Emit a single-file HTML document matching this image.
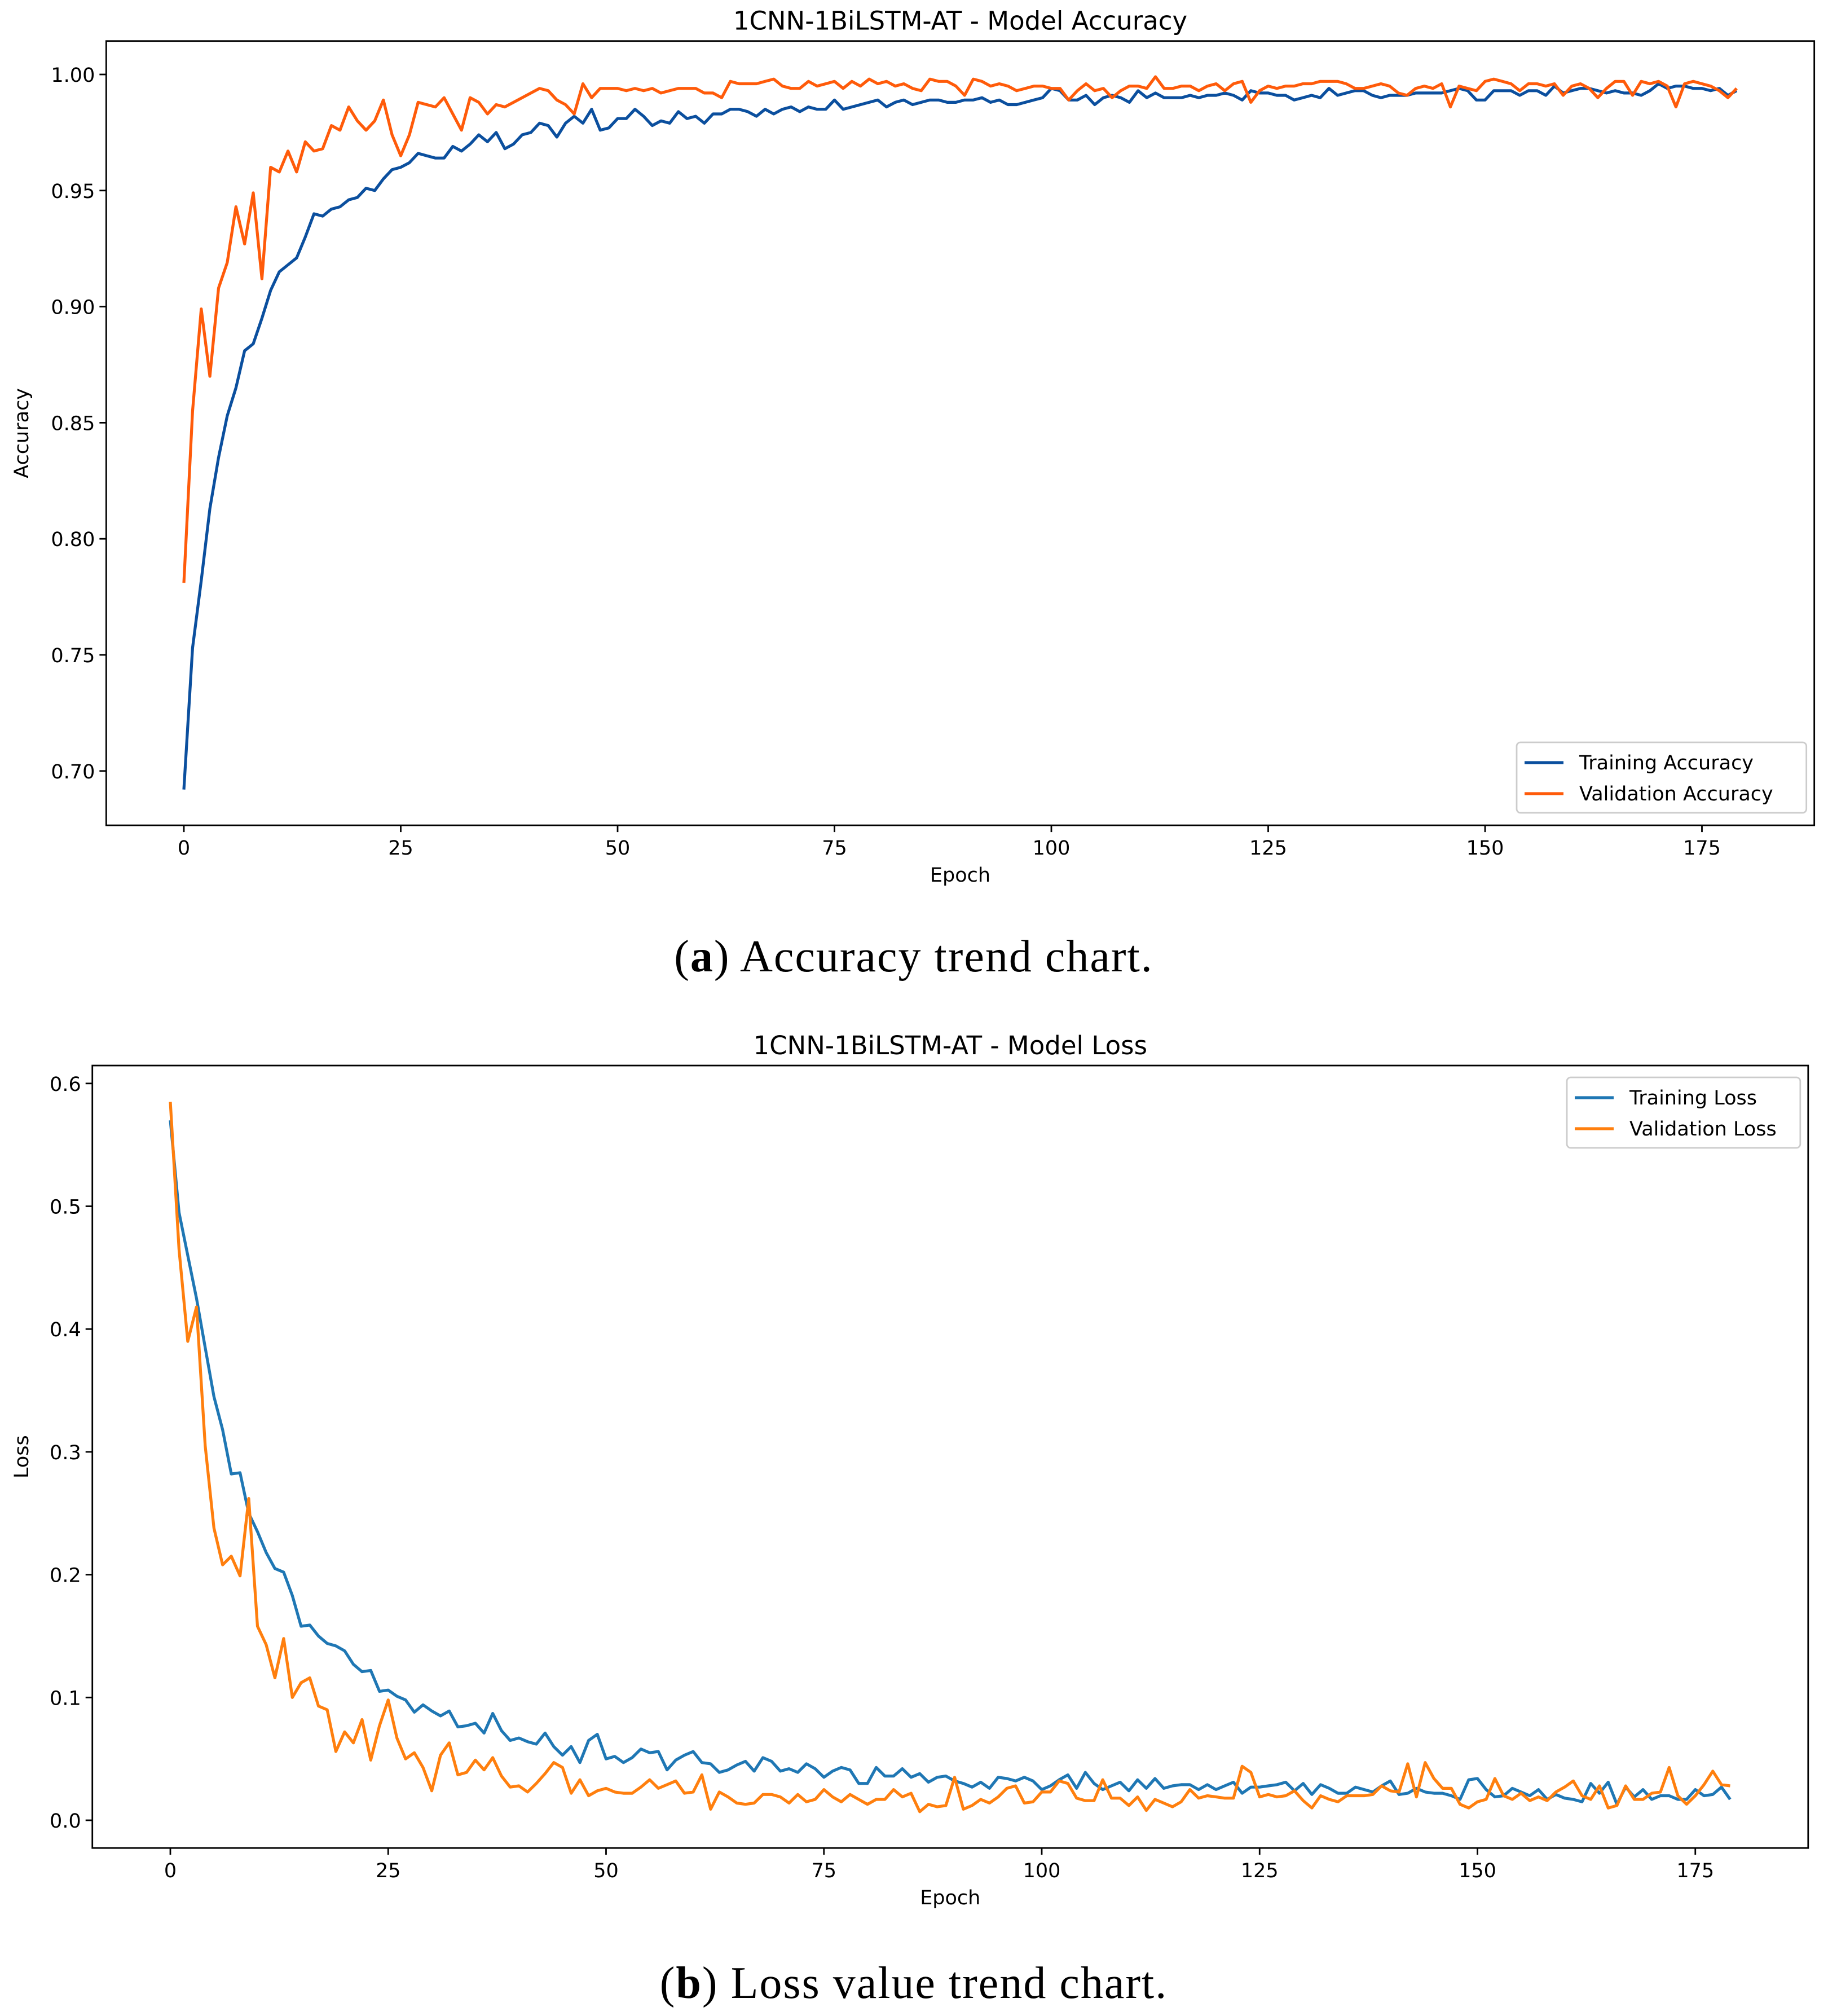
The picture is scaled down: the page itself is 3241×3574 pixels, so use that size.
<!DOCTYPE html>
<html><head><meta charset="utf-8">
<style>
html,body{margin:0;padding:0;background:#fff;}
svg{display:block;}
text{font-family:"DejaVu Sans","Liberation Sans",sans-serif;fill:#000;}
.cap{font-family:"Liberation Serif",serif;}
</style></head>
<body>
<svg id="fig" width="3241" height="3574" viewBox="0 0 3241 3574" xmlns="http://www.w3.org/2000/svg">
<rect x="0" y="0" width="3241" height="3574" fill="#fff"/>
<g id="chartA"></g>
<g id="chartB"></g>
<text class="cap" x="1620" y="1722" font-size="80" letter-spacing="2" text-anchor="middle">(<tspan font-weight="bold">a</tspan>) Accuracy trend chart.</text>
<text class="cap" x="1620" y="3542" font-size="80" letter-spacing="2" text-anchor="middle">(<tspan font-weight="bold">b</tspan>) Loss value trend chart.</text>
</svg>
<script>
const epochTicks = [0,25,50,75,100,125,150,175];
const accTicks = [0.70,0.75,0.80,0.85,0.90,0.95,1.00];
const lossTicks = [0.0,0.1,0.2,0.3,0.4,0.5,0.6];

const trainAcc = [0.692,0.753,0.782,0.813,0.835,0.853,0.865,0.881,0.884,0.895,0.907,0.915,0.918,0.921,0.930,0.940,0.939,0.942,0.943,0.946,
0.947,0.951,0.950,0.955,0.959,0.960,0.962,0.966,0.965,0.964,0.964,0.969,0.967,0.970,0.974,0.971,0.975,0.968,0.970,0.974,
0.975,0.979,0.978,0.973,0.979,0.982,0.979,0.985,0.976,0.977,0.981,0.981,0.985,0.982,0.978,0.980,0.979,0.984,0.981,0.982,
0.979,0.983,0.983,0.985,0.985,0.984,0.982,0.985,0.983,0.985,0.986,0.984,0.986,0.985,0.985,0.989,0.985,0.986,0.987,0.988,
0.989,0.986,0.988,0.989,0.987,0.988,0.989,0.989,0.988,0.988,0.989,0.989,0.990,0.988,0.989,0.987,0.987,0.988,0.989,0.990,
0.994,0.993,0.989,0.989,0.991,0.987,0.990,0.991,0.990,0.988,0.993,0.990,0.992,0.990,0.990,0.990,0.991,0.990,0.991,0.991,
0.992,0.991,0.989,0.993,0.992,0.992,0.991,0.991,0.989,0.990,0.991,0.990,0.994,0.991,0.992,0.993,0.993,0.991,0.990,0.991,
0.991,0.991,0.992,0.992,0.992,0.992,0.993,0.994,0.993,0.989,0.989,0.993,0.993,0.993,0.991,0.993,0.993,0.991,0.995,0.992,
0.993,0.994,0.994,0.993,0.992,0.993,0.992,0.992,0.991,0.993,0.996,0.994,0.995,0.995,0.994,0.994,0.993,0.994,0.991,0.993];
const valAcc = [0.781,0.855,0.899,0.870,0.908,0.919,0.943,0.927,0.949,0.912,0.960,0.958,0.967,0.958,0.971,0.967,0.968,0.978,0.976,0.986,
0.980,0.976,0.980,0.989,0.974,0.965,0.974,0.988,0.987,0.986,0.990,0.983,0.976,0.990,0.988,0.983,0.987,0.986,0.988,0.990,
0.992,0.994,0.993,0.989,0.987,0.983,0.996,0.990,0.994,0.994,0.994,0.993,0.994,0.993,0.994,0.992,0.993,0.994,0.994,0.994,
0.992,0.992,0.990,0.997,0.996,0.996,0.996,0.997,0.998,0.995,0.994,0.994,0.997,0.995,0.996,0.997,0.994,0.997,0.995,0.998,
0.996,0.997,0.995,0.996,0.994,0.993,0.998,0.997,0.997,0.995,0.991,0.998,0.997,0.995,0.996,0.995,0.993,0.994,0.995,0.995,
0.994,0.994,0.989,0.993,0.996,0.993,0.994,0.990,0.993,0.995,0.995,0.994,0.999,0.994,0.994,0.995,0.995,0.993,0.995,0.996,
0.993,0.996,0.997,0.988,0.993,0.995,0.994,0.995,0.995,0.996,0.996,0.997,0.997,0.997,0.996,0.994,0.994,0.995,0.996,0.995,
0.992,0.991,0.994,0.995,0.994,0.996,0.986,0.995,0.994,0.993,0.997,0.998,0.997,0.996,0.993,0.996,0.996,0.995,0.996,0.991,
0.995,0.996,0.994,0.990,0.994,0.997,0.997,0.991,0.997,0.996,0.997,0.995,0.986,0.996,0.997,0.996,0.995,0.993,0.990,0.994];
const trainLoss = [0.570,0.495,0.460,0.425,0.385,0.345,0.318,0.282,0.283,0.250,0.235,0.218,0.205,0.202,0.183,0.158,0.159,0.150,0.144,0.142,
0.138,0.127,0.121,0.122,0.105,0.106,0.101,0.098,0.088,0.094,0.089,0.085,0.089,0.076,0.077,0.079,0.071,0.087,0.073,0.065,
0.067,0.064,0.062,0.071,0.060,0.053,0.060,0.047,0.065,0.070,0.050,0.052,0.047,0.051,0.058,0.055,0.056,0.041,0.049,0.053,
0.056,0.047,0.046,0.039,0.041,0.045,0.048,0.040,0.051,0.048,0.040,0.042,0.039,0.046,0.042,0.035,0.040,0.043,0.041,0.030,
0.030,0.043,0.036,0.036,0.042,0.035,0.038,0.031,0.035,0.036,0.032,0.030,0.027,0.031,0.026,0.035,0.034,0.032,0.035,0.032,
0.025,0.028,0.033,0.037,0.026,0.039,0.030,0.025,0.028,0.031,0.024,0.033,0.026,0.034,0.026,0.028,0.029,0.029,0.025,0.029,
0.025,0.028,0.031,0.022,0.027,0.027,0.028,0.029,0.031,0.024,0.030,0.021,0.029,0.026,0.022,0.022,0.027,0.025,0.023,0.028,
0.032,0.021,0.022,0.026,0.023,0.022,0.022,0.020,0.017,0.033,0.034,0.025,0.019,0.020,0.026,0.023,0.020,0.025,0.017,0.021,
0.018,0.017,0.015,0.030,0.022,0.031,0.013,0.027,0.019,0.025,0.017,0.020,0.020,0.017,0.017,0.025,0.020,0.021,0.027,0.017];
const valLoss = [0.585,0.465,0.390,0.418,0.305,0.238,0.208,0.215,0.199,0.262,0.158,0.143,0.116,0.148,0.100,0.112,0.116,0.093,0.090,0.056,
0.072,0.063,0.082,0.049,0.077,0.098,0.067,0.050,0.055,0.043,0.024,0.053,0.063,0.037,0.039,0.049,0.041,0.051,0.036,0.027,
0.028,0.023,0.030,0.038,0.047,0.043,0.022,0.033,0.020,0.024,0.026,0.023,0.022,0.022,0.027,0.033,0.026,0.029,0.032,0.022,
0.023,0.037,0.009,0.023,0.019,0.014,0.013,0.014,0.021,0.021,0.019,0.014,0.021,0.015,0.017,0.025,0.019,0.015,0.021,0.017,
0.013,0.017,0.017,0.025,0.019,0.022,0.007,0.013,0.011,0.012,0.035,0.009,0.012,0.017,0.014,0.019,0.026,0.028,0.014,0.015,
0.023,0.023,0.032,0.030,0.018,0.016,0.016,0.033,0.018,0.018,0.012,0.019,0.008,0.017,0.014,0.011,0.015,0.025,0.018,0.020,
0.019,0.018,0.018,0.044,0.039,0.019,0.021,0.019,0.020,0.024,0.016,0.010,0.020,0.017,0.015,0.020,0.020,0.020,0.021,0.028,
0.024,0.023,0.046,0.019,0.047,0.034,0.026,0.026,0.013,0.010,0.015,0.017,0.034,0.020,0.017,0.022,0.016,0.019,0.016,0.023,
0.027,0.032,0.020,0.017,0.028,0.010,0.012,0.028,0.017,0.017,0.022,0.023,0.043,0.020,0.013,0.020,0.029,0.040,0.029,0.028];

const NS = 'http://www.w3.org/2000/svg';
function mk(tag, attrs, parent){
  const e = document.createElementNS(NS, tag);
  for (const k in attrs) e.setAttribute(k, attrs[k]);
  parent.appendChild(e);
  return e;
}

function drawChart(g, cfg){
  const xS = e => cfg.x0 + e * cfg.dx;
  const yS = v => cfg.y0 - (v - cfg.v0) * cfg.dy;
  const L = xS(-8.95), R = xS(187.95);
  const T = yS(cfg.vmax), B = yS(cfg.vmin);
  const title = mk('text', {x:(L+R)/2, y:T-20, 'font-size':45, 'text-anchor':'middle'}, g);
  title.textContent = cfg.title;
  
  
  cfg.series.forEach(s => {
    const pts = s.data.map((v,i) => xS(i).toFixed(1) + ',' + yS(v).toFixed(1)).join(' ');
    const pl = mk('polyline', {points:pts, fill:'none', stroke:s.color, 'stroke-width':5.2, 'stroke-linejoin':'round', 'stroke-linecap':'butt'}, g);
    
    
  });
  const fr = mk('rect', {x:L, y:T, width:R-L, height:B-T, fill:'none', stroke:'#000', 'stroke-width':2.8}, g);
  
  
  epochTicks.forEach(t => {
    const x = xS(t);
    const tk = mk('line', {x1:x, x2:x, y1:B, y2:B+12, stroke:'#000', 'stroke-width':2.8}, g);
    
    
    const lb = mk('text', {x:x, y:B+52, 'font-size':35, 'text-anchor':'middle'}, g);
    lb.textContent = String(t);
    
    
  });
  cfg.ticks.forEach(t => {
    const y = yS(t);
    const tk = mk('line', {x1:L-12, x2:L, y1:y, y2:y, stroke:'#000', 'stroke-width':2.8}, g);
    
    
    const lb = mk('text', {x:L-20, y:y+13, 'font-size':35, 'text-anchor':'end'}, g);
    lb.textContent = t.toFixed(cfg.dec);
    
    
  });
  const xl = mk('text', {x:(L+R)/2, y:B+100, 'font-size':35, 'text-anchor':'middle'}, g);
  xl.textContent = 'Epoch';
  
  
  const yl = mk('text', {x:0, y:0, 'font-size':35, 'text-anchor':'middle', transform:'translate(' + (cfg.ylabX) + ',' + ((T+B)/2) + ') rotate(-90)'}, g);
  yl.textContent = cfg.ylabel;
  
  
  const lg = mk('g', {}, g);
  
  
  const lx = cfg.legend.x, ly = cfg.legend.y, lw = R - 14 - lx, lh = 125;
  mk('rect', {x:lx, y:ly, width:lw, height:lh, rx:7, fill:'#fff', 'fill-opacity':0.8, stroke:'#ccc', 'stroke-width':2.8}, lg);
  cfg.series.forEach((s, i) => {
    const yy = ly + 36 + i * 55;
    const ln = mk('line', {x1:lx+14, x2:lx+83, y1:yy, y2:yy, stroke:s.color, 'stroke-width':5.2}, lg);
    
    
    const tx = mk('text', {x:lx+111, y:yy+12, 'font-size':35}, lg);
    tx.textContent = s.label;
    
    
  });
}

drawChart(document.getElementById('chartA'), {
  title:'1CNN-1BiLSTM-AT - Model Accuracy',
  x0:326, dx:15.38, y0:132, v0:1.00, dy:205.8/0.05,
  vmin:0.6766, vmax:1.0144, ticks:accTicks, dec:2, ylabel:'Accuracy', ylabX:50,
  legend:{x:2689, y:1316},
  series:[
    {name:'training-accuracy-line', label:'Training Accuracy', color:'#0b4f9e', data:trainAcc},
    {name:'validation-accuracy-line', label:'Validation Accuracy', color:'#ff5b0a', data:valAcc}
  ]
});
drawChart(document.getElementById('chartB'), {
  title:'1CNN-1BiLSTM-AT - Model Loss',
  x0:302, dx:15.45, y0:3227, v0:0.0, dy:2177,
  vmin:-0.0226, vmax:0.6146, ticks:lossTicks, dec:1, ylabel:'Loss', ylabX:50,
  legend:{x:2778, y:1910},
  series:[
    {name:'training-loss-line', label:'Training Loss', color:'#1f77b4', data:trainLoss},
    {name:'validation-loss-line', label:'Validation Loss', color:'#ff7f0e', data:valLoss}
  ]
});
</script>
</body></html>
